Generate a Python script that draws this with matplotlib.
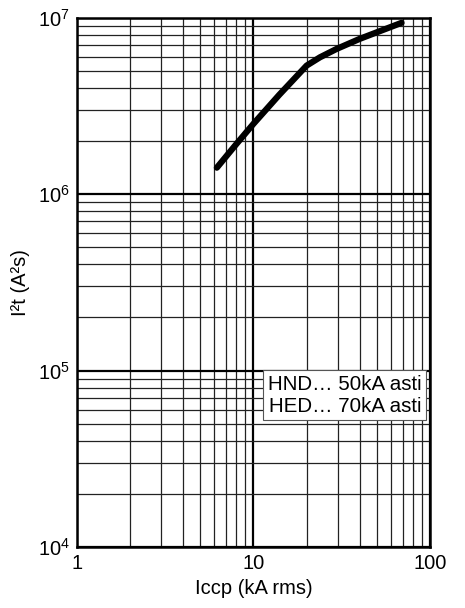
import matplotlib
matplotlib.use('Agg')
import matplotlib.pyplot as plt
from matplotlib.ticker import FixedLocator, FixedFormatter, LogLocator, NullFormatter

plt.rcParams['font.family'] = ['Liberation Sans', 'DejaVu Sans']
plt.rcParams['mathtext.fontset'] = 'custom'
plt.rcParams['mathtext.rm'] = 'Liberation Sans'
plt.rcParams['mathtext.it'] = 'Liberation Sans'

# curve
iccp = [6.2, 8.0, 10.0, 14.0, 20.0, 23.8, 29.6, 40.0, 69.0]
i2t = [1.41e6, 1.92e6, 2.50e6, 3.65e6, 5.34e6, 5.95e6, 6.64e6, 7.57e6, 9.33e6]

x_ticks = [1, 10, 100]
x_labels = ['1', '10', '100']
y_ticks = [1e4, 1e5, 1e6, 1e7]
y_labels = [r'$10^4$', r'$10^5$', r'$10^6$', r'$10^7$']
legend_lines = ['HND… 50kA asti', 'HED… 70kA asti']

fig = plt.figure(figsize=(4.65, 6.08), dpi=100)
ax = fig.add_axes([0.1656, 0.1003, 0.7591, 0.8709])
ax.set_xscale('log')
ax.set_yscale('log')
ax.set_xlim(1, 100)
ax.set_ylim(1e4, 1e7)

ax.plot(iccp, i2t, color='black', linewidth=4.5, solid_capstyle='round',
        solid_joinstyle='round', zorder=3)

ax.xaxis.set_major_locator(FixedLocator(x_ticks))
ax.xaxis.set_major_formatter(FixedFormatter(x_labels))
ax.yaxis.set_major_locator(FixedLocator(y_ticks))
ax.yaxis.set_major_formatter(FixedFormatter(y_labels))
ax.xaxis.set_minor_locator(LogLocator(base=10, subs=range(2, 10)))
ax.yaxis.set_minor_locator(LogLocator(base=10, subs=range(2, 10)))
ax.xaxis.set_minor_formatter(NullFormatter())
ax.yaxis.set_minor_formatter(NullFormatter())

ax.grid(which='major', color='black', linewidth=1.6)
ax.grid(which='minor', color='#222222', linewidth=0.9)
ax.tick_params(which='both', length=0, labelsize=14.5, pad=5)
for s in ax.spines.values():
    s.set_linewidth(1.8)

ax.set_xlabel('Iccp (kA rms)', fontsize=14.5, labelpad=4)
ax.set_ylabel('I²t (A²s)', fontsize=14.5, labelpad=6)

ax.text(0.975, 0.325, '\n'.join(legend_lines), transform=ax.transAxes,
        ha='right', va='top', fontsize=14.8, linespacing=1.2, zorder=4,
        bbox=dict(boxstyle='square,pad=0.22', facecolor='white',
                  edgecolor='#555555', linewidth=0.8))

fig.savefig('out.png', dpi=100)
